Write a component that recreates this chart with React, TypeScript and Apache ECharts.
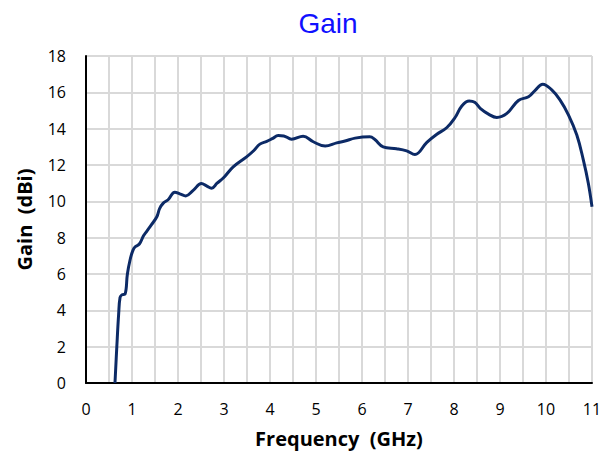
import React, { useEffect, useRef } from "react";
import * as echarts from "echarts";

const freqGHz = [0.63, 0.67, 0.71, 0.74, 0.78, 0.85, 0.9, 0.96, 1.02, 1.07, 1.16, 1.25, 1.32, 1.42, 1.54, 1.6, 1.68, 1.79, 1.93, 2.05, 2.17, 2.33, 2.51, 2.62, 2.73, 2.85, 2.99, 3.2, 3.49, 3.65, 3.78, 3.93, 4.05, 4.18, 4.3, 4.47, 4.72, 4.94, 5.2, 5.45, 5.63, 5.85, 6.17, 6.28, 6.46, 6.75, 6.97, 7.15, 7.41, 7.62, 7.84, 8.02, 8.17, 8.33, 8.45, 8.57, 8.75, 8.93, 9.15, 9.4, 9.62, 9.76, 9.93, 10.12, 10.3, 10.49, 10.67, 10.81, 10.92, 11.0];
const gainDbi = [0.0, 2.0, 3.8, 4.7, 4.85, 4.9, 6.0, 6.8, 7.3, 7.5, 7.65, 8.1, 8.35, 8.7, 9.15, 9.6, 9.9, 10.1, 10.5, 10.4, 10.3, 10.6, 10.98, 10.85, 10.72, 11.0, 11.3, 11.9, 12.45, 12.8, 13.15, 13.3, 13.45, 13.62, 13.6, 13.42, 13.58, 13.28, 13.04, 13.22, 13.32, 13.48, 13.55, 13.4, 13.0, 12.9, 12.78, 12.58, 13.25, 13.68, 14.05, 14.6, 15.25, 15.52, 15.45, 15.12, 14.8, 14.62, 14.84, 15.55, 15.76, 16.1, 16.45, 16.15, 15.6, 14.75, 13.65, 12.3, 11.0, 9.7];

const xTicks = [0, 1, 2, 3, 4, 5, 6, 7, 8, 9, 10, 11];
const yTicks = [0, 2, 4, 6, 8, 10, 12, 14, 16, 18];

export default function App() {
  const ref = useRef<HTMLDivElement>(null);
  useEffect(() => {
    const chart = echarts.init(ref.current!, null, { renderer: "svg" });
    const data = freqGHz.map((f, i) => [f, gainDbi[i]]);
    chart.setOption({
      animation: false,
      title: {
        text: "Gain",
        left: 323,
        textAlign: "center",
        top: 4,
        textStyle: { color: "#1010ff", fontFamily: "Liberation Sans", fontSize: 28, fontWeight: "normal" },
      },
      grid: { left: 86, right: 19, top: 56, bottom: 70 },
      xAxis: {
        type: "value",
        min: 0,
        max: 11,
        interval: 0.5,
        name: "Frequency  (GHz)",
        nameLocation: "middle",
        nameGap: 45,
        nameTextStyle: { fontFamily: "Open Sans", fontSize: 20, fontWeight: "bold", color: "#000" },
        axisLine: { show: true, lineStyle: { color: "#000", width: 2 } },
        axisTick: { show: false },
        axisLabel: {
          fontFamily: "Open Sans",
          fontSize: 16,
          color: "#000",
          margin: 18,
          formatter: (v: number) => (xTicks.includes(v) ? String(v) : ""),
        },
        splitLine: { show: true, lineStyle: { color: "#d9d9d9", width: 2 } },
      },
      yAxis: {
        type: "value",
        min: 0,
        max: 18,
        interval: 2,
        name: "Gain  (dBi)",
        nameLocation: "middle",
        nameGap: 52,
        nameTextStyle: { fontFamily: "Open Sans", fontSize: 20, fontWeight: "bold", color: "#000" },
        axisLine: { show: true, lineStyle: { color: "#000", width: 2 } },
        axisTick: { show: false },
        axisLabel: {
          fontFamily: "Open Sans",
          fontSize: 16,
          color: "#000",
          margin: 20,
          formatter: (v: number) => (yTicks.includes(v) ? String(v) : ""),
        },
        splitLine: { show: true, lineStyle: { color: "#d9d9d9", width: 2 } },
      },
      series: [
        {
          type: "line",
          data,
          smooth: 0.4,
          showSymbol: false,
          lineStyle: { color: "#0c2a66", width: 3 },
        },
      ],
    });
    return () => chart.dispose();
  }, []);
  return <div ref={ref} style={{ width: 611, height: 453, position: "absolute", left: 0, top: 0, background: "#fff" }} />;
}
